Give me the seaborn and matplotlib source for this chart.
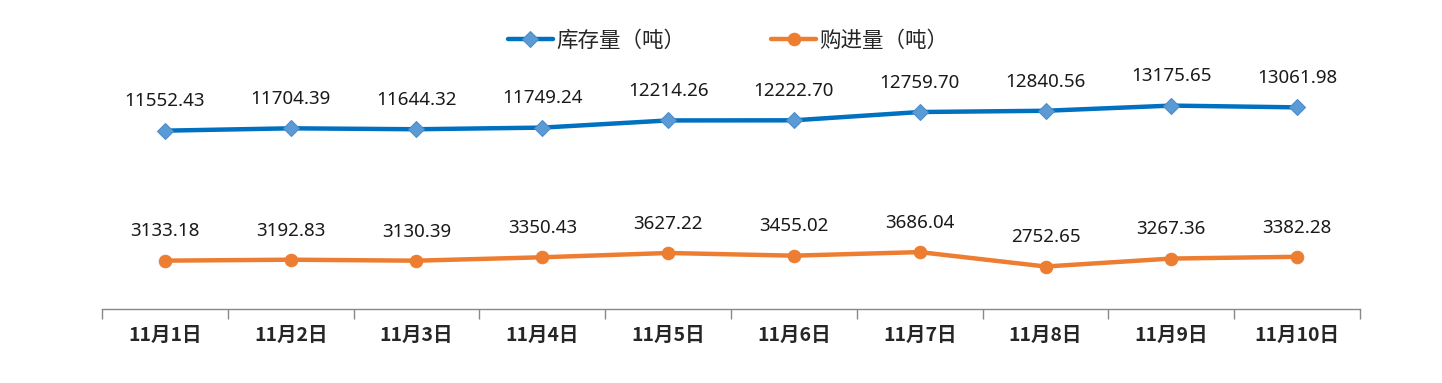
import pandas as pd
import seaborn as sns
import matplotlib.pyplot as plt
from matplotlib.ticker import FixedLocator

dates = ["11月1日", "11月2日", "11月3日", "11月4日", "11月5日",
         "11月6日", "11月7日", "11月8日", "11月9日", "11月10日"]
stock = [11552.43, 11704.39, 11644.32, 11749.24, 12214.26,
         12222.70, 12759.70, 12840.56, 13175.65, 13061.98]
purchase = [3133.18, 3192.83, 3130.39, 3350.43, 3627.22,
            3455.02, 3686.04, 2752.65, 3267.36, 3382.28]

sns.set_style("white")
plt.rcParams['font.family'] = ['Noto Sans CJK SC', 'DejaVu Sans']

df = pd.DataFrame({"pos": range(len(dates)), "stock": stock, "purchase": purchase})

fig = plt.figure(figsize=(14.42, 3.83), dpi=100)
ax = fig.add_axes([102 / 1442, 74 / 383, (1360 - 102) / 1442, (309 - 62) / 383])

sns.lineplot(data=df, x="pos", y="stock", ax=ax, color="#0070C0", linewidth=3.2,
             marker="D", markersize=8, markerfacecolor="#5B9BD5",
             markeredgecolor="#4A8BC9", label="库存量（吨）")
sns.lineplot(data=df, x="pos", y="purchase", ax=ax, color="#ED7D31", linewidth=3.2,
             marker="o", markersize=9, markerfacecolor="#ED7D31",
             markeredgecolor="#ED7D31", label="购进量（吨）")

for i in range(len(dates)):
    ax.annotate(f"{stock[i]:.2f}", (i, stock[i]), xytext=(0, 21), textcoords="offset points",
                ha="center", va="center", fontsize=13.5, color="#1a1a1a", family="Noto Sans")
    ax.annotate(f"{purchase[i]:.2f}", (i, purchase[i]), xytext=(0, 21), textcoords="offset points",
                ha="center", va="center", fontsize=13.5, color="#1a1a1a", family="Noto Sans")

ax.set_xlim(-0.5, len(dates) - 0.5)
ax.set_ylim(0, 16000)
ax.set_xticks(range(len(dates)))
ax.set_xticklabels(dates, fontsize=14, fontweight="bold")
ax.tick_params(axis="x", which="major", length=0, pad=12)
ax.xaxis.set_minor_locator(FixedLocator([i - 0.5 for i in range(len(dates) + 1)]))
ax.tick_params(axis="x", which="minor", length=7, color="#888888", width=1, bottom=True)
ax.set_yticks([])
ax.set_xlabel("")
ax.set_ylabel("")
for s in ["top", "right", "left"]:
    ax.spines[s].set_visible(False)
ax.spines["bottom"].set_color("#888888")
ax.spines["bottom"].set_linewidth(1)

ax.legend_.remove()
handles, labels = ax.get_legend_handles_labels()
fig.legend(handles, labels, loc="center", bbox_to_anchor=(728 / 1442, 1 - 41 / 383), ncol=2,
           frameon=False, fontsize=15.5, columnspacing=4, handlelength=2.1, handletextpad=0.15)

fig.savefig("out.png", dpi=100)
